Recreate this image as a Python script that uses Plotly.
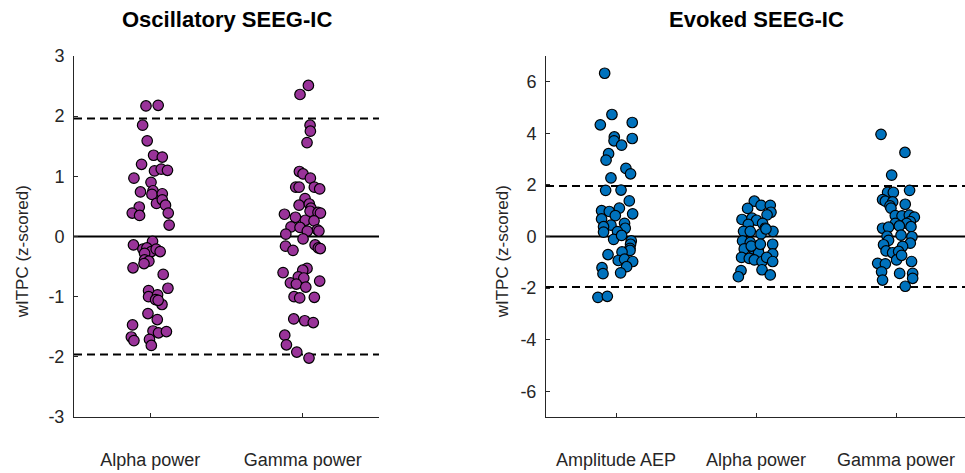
import plotly.graph_objects as go

# ---- Oscillatory SEEG-IC (left panel) ----
osc_categories = ["Alpha power", "Gamma power"]
osc_yticks = [-3, -2, -1, 0, 1, 2, 3]

osc_alpha_x = [0.972, 1.052, 0.950, 0.980, 1.022, 1.079, 0.943, 1.028, 1.072, 1.113,
               0.893, 1.005, 0.936, 1.018, 1.011, 1.079, 1.041, 1.079, 1.100, 0.928,
               0.882, 0.930, 1.118, 1.124, 0.890, 1.015, 0.952, 0.978, 1.007, 1.039,
               1.065, 0.963, 0.963, 0.991, 0.959, 0.887, 1.085, 1.116, 0.989, 0.989,
               1.048, 1.035, 1.077, 1.052, 0.985, 1.046, 0.884, 1.018, 1.054, 1.106,
               0.876, 0.893, 0.995, 1.007]
osc_alpha_y = [2.17, 2.18, 1.85, 1.59, 1.35, 1.32, 1.20, 1.09, 1.12, 1.10,
               0.97, 0.90, 0.74, 0.76, 0.70, 0.71, 0.55, 0.61, 0.52, 0.49,
               0.39, 0.35, 0.39, 0.19, -0.14, -0.08, -0.21, -0.19, -0.25, -0.21,
               -0.25, -0.28, -0.39, -0.41, -0.45, -0.52, -0.63, -0.86, -0.90, -1.00,
               -0.97, -1.05, -1.13, -1.06, -1.28, -1.38, -1.47, -1.57, -1.60, -1.58,
               -1.67, -1.73, -1.71, -1.81]

osc_gamma_x = [2.037, 1.982, 2.048, 2.050, 2.028, 1.978, 2.002, 2.050, 1.954, 1.976,
               2.076, 2.111, 2.015, 1.976, 2.043, 2.054, 1.880, 1.952, 2.017, 2.048,
               2.100, 2.116, 2.074, 1.923, 1.982, 2.096, 2.030, 2.106, 1.889, 2.002,
               1.887, 1.936, 2.081, 2.102, 2.115, 1.871, 2.028, 2.000, 1.971, 2.007,
               1.919, 1.958, 2.111, 2.020, 1.943, 1.980, 2.076, 1.941, 2.013, 2.069,
               1.882, 1.893, 1.961, 2.041]
osc_gamma_y = [2.51, 2.36, 1.85, 1.75, 1.56, 1.08, 1.04, 0.97, 0.82, 0.82,
               0.82, 0.79, 0.63, 0.52, 0.54, 0.47, 0.37, 0.32, 0.27, 0.42,
               0.40, 0.39, 0.26, 0.16, 0.15, 0.11, 0.09, 0.09, 0.04, -0.04,
               -0.16, -0.23, -0.14, -0.19, -0.20, -0.60, -0.53, -0.56, -0.67, -0.69,
               -0.77, -0.79, -0.74, -0.84, -1.00, -1.02, -1.01, -1.37, -1.40, -1.43,
               -1.64, -1.80, -1.92, -2.02]

# ---- Evoked SEEG-IC (right panel) ----
evk_categories = ["Amplitude AEP", "Alpha power", "Gamma power"]
evk_yticks = [-6, -4, -2, 0, 2, 4, 6]

evk_aep_x = [0.919, 0.971, 0.888, 1.116, 0.988, 0.986, 1.040, 1.116, 0.947, 0.929,
             1.071, 1.104, 0.964, 0.926, 1.036, 1.095, 0.897, 0.952, 1.024, 1.119,
             0.897, 0.995, 0.964, 0.911, 1.061, 1.066, 0.911, 1.011, 0.983, 1.040,
             1.109, 1.104, 1.100, 1.100, 1.043, 0.943, 1.016, 1.061, 1.119, 1.076,
             0.900, 0.907, 1.033, 0.871, 0.938]
evk_aep_y = [6.33, 4.73, 4.33, 4.42, 3.86, 3.71, 3.54, 3.80, 3.21, 2.96,
             2.64, 2.43, 2.27, 1.79, 1.80, 1.38, 1.00, 0.97, 1.10, 0.88,
             0.68, 0.81, 0.44, 0.38, 0.51, 0.32, 0.17, 0.19, -0.11, 0.04,
             -0.17, -0.30, -0.46, -0.54, -0.60, -0.70, -0.93, -0.88, -0.97, -1.17,
             -1.21, -1.44, -1.41, -2.36, -2.32]

evk_alpha_x = [1.988, 1.940, 2.036, 2.102, 2.107, 2.079, 1.900, 1.971, 2.004, 1.945,
               2.047, 2.066, 1.911, 1.959, 2.036, 2.121, 2.071, 1.904, 1.959, 2.119,
               1.916, 1.981, 2.016, 2.019, 2.119, 1.897, 1.952, 1.988, 2.043, 2.076,
               2.119, 2.043, 1.893, 1.874, 2.102, 1.966, 2.031]
evk_alpha_y = [1.37, 1.09, 1.21, 1.21, 0.94, 0.84, 0.66, 0.71, 0.63, 0.47,
               0.51, 0.32, 0.20, 0.20, 0.10, 0.20, 0.29, -0.17, -0.23, -0.30,
               -0.48, -0.48, -0.52, -0.63, -0.67, -0.81, -0.85, -0.91, -0.97, -0.81,
               -0.97, -1.29, -1.32, -1.56, -1.49, -0.37, -0.30]

evk_gamma_x = [2.893, 3.064, 2.969, 2.940, 2.981, 3.097, 2.904, 2.924, 2.976, 2.957,
               3.066, 2.964, 2.995, 3.043, 3.095, 3.131, 3.102, 2.995, 3.076, 3.024,
               3.107, 2.904, 2.947, 3.036, 3.114, 2.936, 2.947, 2.911, 3.102, 3.047,
               2.929, 2.976, 3.019, 3.004, 3.040, 2.869, 2.924, 3.111, 2.897, 3.026,
               3.119, 3.119, 2.904, 3.066]
evk_gamma_y = [3.96, 3.26, 2.38, 1.71, 1.71, 1.79, 1.43, 1.37, 1.34, 1.19,
               1.25, 1.10, 0.81, 0.80, 0.83, 0.75, 0.58, 0.51, 0.51, 0.41,
               0.38, 0.32, 0.36, 0.05, -0.01, 0.01, -0.15, -0.32, -0.26, -0.38,
               -0.56, -0.63, -0.58, -0.91, -0.73, -1.04, -1.06, -0.97, -1.37, -1.43,
               -1.43, -1.62, -1.69, -1.93]

# significance threshold (two-sided, p < 0.05)
z_crit = 1.96

PURPLE = "rgb(153,51,153)"
BLUE = "rgb(0,114,189)"
AXIS_GREY = "rgb(38,38,38)"
FONT = "Liberation Sans, Arial, sans-serif"

W, H = 965, 473
left_dom = [74 / W, 379 / W]
right_dom = [546 / W, 1.0]
y_dom = [(H - 425) / H, (H - 48) / H]


def dots(x, y, color, xa, ya):
    return go.Scatter(
        x=x, y=y, mode="markers", xaxis=xa, yaxis=ya, showlegend=False,
        marker=dict(size=10.5, color=color, line=dict(color="black", width=1.2)),
    )


fig = go.Figure()
fig.add_trace(dots(osc_alpha_x, osc_alpha_y, PURPLE, "x", "y"))
fig.add_trace(dots(osc_gamma_x, osc_gamma_y, PURPLE, "x", "y"))
fig.add_trace(dots(evk_aep_x, evk_aep_y, BLUE, "x2", "y2"))
fig.add_trace(dots(evk_alpha_x, evk_alpha_y, BLUE, "x2", "y2"))
fig.add_trace(dots(evk_gamma_x, evk_gamma_y, BLUE, "x2", "y2"))

# reference lines: zero (solid) and +/- critical z (dashed)
for xref, yref in (("x domain", "y"), ("x2 domain", "y2")):
    fig.add_shape(type="line", xref=xref, yref=yref, x0=0, x1=1, y0=0, y1=0,
                  line=dict(color="black", width=2), layer="below")
    for v in (z_crit, -z_crit):
        fig.add_shape(type="line", xref=xref, yref=yref, x0=0, x1=1, y0=v, y1=v,
                      line=dict(color="black", width=2, dash="8px,5px"), layer="below")

axis_common = dict(
    showline=True, linecolor=AXIS_GREY, linewidth=1, mirror=False,
    ticks="inside", ticklen=4, tickcolor=AXIS_GREY, showgrid=False, zeroline=False,
    tickfont=dict(family=FONT, size=18, color=AXIS_GREY),
)

fig.update_layout(
    width=W, height=H,
    margin=dict(l=0, r=0, t=0, b=0),
    plot_bgcolor="white", paper_bgcolor="white",
    font=dict(family=FONT, color=AXIS_GREY),
    xaxis=dict(domain=left_dom, range=[0.5, 2.5], tickvals=[1, 2],
               ticktext=osc_categories, anchor="y", ticklabelstandoff=26, **axis_common),
    yaxis=dict(domain=y_dom, range=[-3, 3], tickvals=osc_yticks,
               ticktext=[str(v) for v in osc_yticks],
               anchor="x", ticklabelstandoff=5, **axis_common),
    xaxis2=dict(domain=right_dom, range=[0.5, 0.5 + (W - 546) / 140], tickvals=[1, 2, 3],
                ticktext=evk_categories, anchor="y2", ticklabelstandoff=26, **axis_common),
    yaxis2=dict(domain=y_dom, range=[-7, 7], tickvals=evk_yticks,
                ticktext=[str(v) for v in evk_yticks],
                anchor="x2", ticklabelstandoff=5, **axis_common),
)

# panel titles
for xc, text in (((left_dom[0] + left_dom[1]) / 2, "Oscillatory SEEG-IC"),
                 ((546 + 967) / 2 / W, "Evoked SEEG-IC")):
    fig.add_annotation(x=xc, y=1 - 10 / H, xref="paper", yref="paper", text=f"<b>{text}</b>",
                       showarrow=False, xanchor="center", yanchor="middle",
                       font=dict(family=FONT, size=22, color="black"))

# y-axis titles
for xp in (22 / W, 502 / W):
    fig.add_annotation(x=xp, y=1 - 253 / H, xref="paper", yref="paper",
                       text="wITPC (z-scored)", textangle=-90, showarrow=False,
                       xanchor="center", yanchor="middle",
                       font=dict(family=FONT, size=17, color=AXIS_GREY))

fig.write_html("out.html")
